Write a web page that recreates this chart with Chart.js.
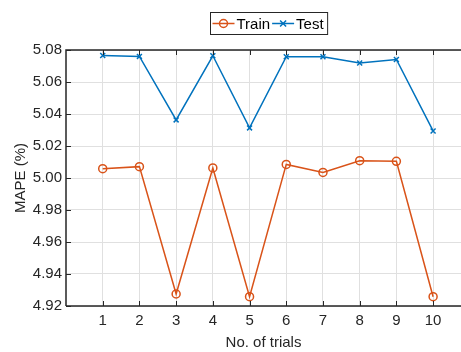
<!DOCTYPE html>
<html>
<head>
<meta charset="utf-8">
<script src="https://cdn.jsdelivr.net/npm/chart.js@4.4.1/dist/chart.umd.min.js"></script>
<style>
  html, body { margin: 0; padding: 0; background: #fff; overflow: hidden; }
</style>
</head>
<body>
<canvas id="mapeChart" width="461" height="352"></canvas>
<script>
// ── Data ──
const trials     = [1, 2, 3, 4, 5, 6, 7, 8, 9, 10];
const trainMape  = [5.0058, 5.0071, 4.9275, 5.0063, 4.9258, 5.0085, 5.0035, 5.0108, 5.0104, 4.9258];
const testMape   = [5.0766, 5.0760, 5.0363, 5.0764, 5.0313, 5.0758, 5.0758, 5.0719, 5.0741, 5.0294];
const yTicks     = [4.92, 4.94, 4.96, 4.98, 5.00, 5.02, 5.04, 5.06, 5.08];

const FONT = 'Liberation Sans, Arial, sans-serif';
const AXIS = '#262626';
const GRID = '#e0e0e0';

// MATLAB style box: top/left lines, inward ticks, boxed legend
const axesBox = {
  id: 'axesBox',
  afterDraw(chart) {
    const { ctx, chartArea: a, scales } = chart;
    ctx.save();
    ctx.strokeStyle = AXIS;
    ctx.lineWidth = 1.5;
    ctx.beginPath();
    ctx.moveTo(a.left, a.bottom); ctx.lineTo(a.left, a.top); ctx.lineTo(a.right, a.top);
    ctx.moveTo(a.left, a.bottom); ctx.lineTo(a.right, a.bottom);
    ctx.stroke();
    ctx.lineWidth = 1;
    ctx.beginPath();
    trials.forEach(t => {
      const x = Math.round(scales.x.getPixelForValue(t)) + 0.5;
      ctx.moveTo(x, a.bottom); ctx.lineTo(x, a.bottom - 5);
      ctx.moveTo(x, a.top);    ctx.lineTo(x, a.top + 5);
    });
    yTicks.forEach(v => {
      const y = Math.round(scales.y.getPixelForValue(v)) + 0.5;
      ctx.moveTo(a.left, y); ctx.lineTo(a.left + 5, y);
    });
    ctx.stroke();

    // legend
    ctx.font = '15px ' + FONT;
    ctx.textBaseline = 'middle';
    const sets = chart.data.datasets;
    const sample = 22, gap = 2, pad = 2;
    let w = pad;
    sets.forEach(ds => { w += sample + gap + ctx.measureText(ds.label).width + gap; });
    w += pad;
    const cx = 268.5, top = 12.5, h = 22;
    let x = Math.round(cx - w / 2) + 0.5;
    ctx.fillStyle = '#fff';
    ctx.fillRect(x, top, w, h);
    ctx.strokeStyle = AXIS;
    ctx.strokeRect(x, top, w, h);
    const cy = top + h / 2;
    x += pad;
    sets.forEach(ds => {
      ctx.strokeStyle = ds.borderColor;
      ctx.lineWidth = 1.5;
      ctx.beginPath();
      ctx.moveTo(x, cy); ctx.lineTo(x + sample, cy);
      ctx.stroke();
      const mx = x + sample / 2;
      ctx.beginPath();
      if (ds.pointStyle === 'circle') {
        ctx.arc(mx, cy, 4, 0, Math.PI * 2);
      } else {
        ctx.moveTo(mx - 3, cy - 3); ctx.lineTo(mx + 3, cy + 3);
        ctx.moveTo(mx - 3, cy + 3); ctx.lineTo(mx + 3, cy - 3);
      }
      ctx.stroke();
      x += sample + gap;
      ctx.fillStyle = '#000';
      ctx.fillText(ds.label, x, cy + 1);
      x += ctx.measureText(ds.label).width + gap;
    });
    ctx.restore();
  }
};

new Chart(document.getElementById('mapeChart'), {
  type: 'line',
  data: {
    datasets: [{
      label: 'Train',
      data: trials.map((t, i) => ({ x: t, y: trainMape[i] })),
      borderColor: '#D95319',
      backgroundColor: 'rgba(0,0,0,0)',
      borderWidth: 1.5,
      pointStyle: 'circle',
      pointRadius: 4,
      pointBorderWidth: 1.5,
      pointBackgroundColor: 'rgba(0,0,0,0)',
      tension: 0
    }, {
      label: 'Test',
      data: trials.map((t, i) => ({ x: t, y: testMape[i] })),
      borderColor: '#0072BD',
      backgroundColor: 'rgba(0,0,0,0)',
      borderWidth: 1.5,
      pointStyle: 'crossRot',
      pointRadius: 3.5,
      pointBorderWidth: 1.5,
      tension: 0
    }]
  },
  options: {
    responsive: false,
    animation: false,
    devicePixelRatio: 1,
    layout: { autoPadding: false, padding: { top: 50, right: 0, bottom: 0, left: 0 } },
    plugins: { legend: { display: false }, tooltip: { enabled: false } },
    scales: {
      x: {
        type: 'linear',
        min: 0,
        max: 10.76,
        afterBuildTicks: s => { s.ticks = trials.map(v => ({ value: v })); },
        afterFit: s => { s.height = 46; s.paddingRight = 0; s.paddingLeft = 0; },
        grid: { color: GRID, drawTicks: false },
        border: { display: false },
        ticks: { color: '#262626', font: { family: FONT, size: 15 }, padding: 6, maxRotation: 0 },
        title: { display: true, text: 'No. of trials', color: '#262626', font: { family: FONT, size: 15 }, padding: { top: 0, bottom: 0 } }
      },
      y: {
        min: 4.92,
        max: 5.08,
        afterBuildTicks: s => { s.ticks = yTicks.map(v => ({ value: v })); },
        afterFit: s => { s.width = 66; s.paddingTop = 0; s.paddingBottom = 0; },
        grid: { color: GRID, drawTicks: false },
        border: { display: false },
        ticks: { color: '#262626', font: { family: FONT, size: 15 }, padding: 4, callback: v => v.toFixed(2) },
        title: { display: true, text: 'MAPE (%)', color: '#262626', font: { family: FONT, size: 15 }, padding: { top: 12, bottom: 0 } }
      }
    }
  },
  plugins: [axesBox]
});
</script>
</body>
</html>
